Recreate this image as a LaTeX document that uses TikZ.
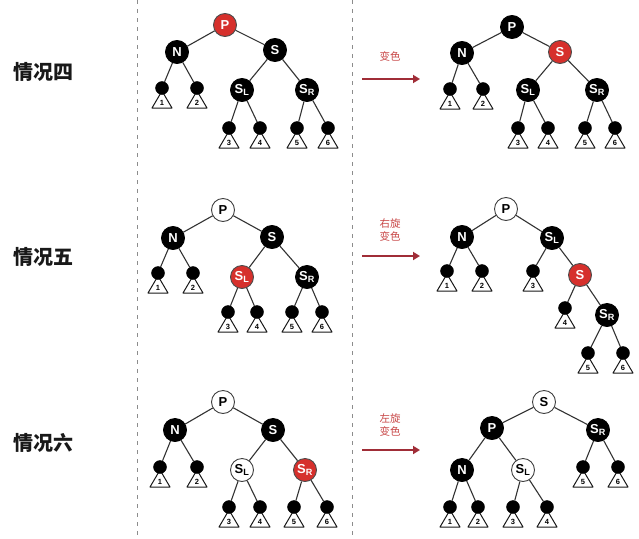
\documentclass[tikz,border=0pt]{standalone}
\usepackage{fontspec}
\setmainfont{Liberation Sans}
\newfontfamily\cjk{Noto Sans CJK SC}
\usetikzlibrary{arrows.meta}
\definecolor{rbnode}{RGB}{214,48,44}
\definecolor{arrowred}{RGB}{160,45,55}
\definecolor{labred}{RGB}{200,70,70}
\tikzset{
  big/.style={circle,minimum size=23pt,inner sep=0pt,line width=0.9pt,font=\bfseries\fontsize{13}{13}\selectfont},
  bn/.style={big,fill=black,draw=black,text=white},
  rn/.style={big,fill=rbnode,draw=black!70,text=white},
  wn/.style={big,fill=white,draw=black!75,text=black},
  leafnode/.style={circle,fill=black,draw=black,minimum size=13pt,inner sep=0pt},
  tristyle/.style={draw=black!90,fill=white,line width=1pt,line join=round},
  numstyle/.style={inner sep=0pt,font=\bfseries\fontsize{7.5}{7.5}\selectfont},
  edge/.style={draw=black!80,line width=1.1pt},
  sep/.style={draw=black!45,line width=0.8pt,dash pattern=on 4pt off 5pt},
  op/.style={-{Triangle[length=7pt,width=8pt]},line width=2.4pt,draw=arrowred},
  oplab/.style={text=labred,font=\cjk\fontsize{10.5}{13}\selectfont,align=center},
  case/.style={font=\cjk\bfseries\fontsize{20}{20}\selectfont,text=black!90},
}
\newcommand\lf[4]{%
  \draw[tristyle] (#2,#3+3) -- (#2+10,#3+20) -- (#2-10,#3+20) -- cycle;
  \node[numstyle] (#1t) at (#2,#3+14.5) {#4};
  \node[leafnode] (#1) at (#2,#3) {};
}
\newcommand\SL{S\textsubscript{L}}
\newcommand\SR{S\textsubscript{R}}
\begin{document}
\begin{tikzpicture}[x=1pt,y=-1pt]
\fill[white] (0,0) rectangle (639,538);
\useasboundingbox (0,0) rectangle (639,538);
% separators
\coordinate (d1t) at (137,0); \coordinate (d1b) at (137,538);
\coordinate (d2t) at (352,0); \coordinate (d2b) at (352,538);
\draw[sep] (d1t) -- (d1b);
\draw[sep] (d2t) -- (d2b);
% case labels
\node[case] (c4) at (43,72) {情况四};
\node[case] (c5) at (43,257) {情况五};
\node[case] (c6) at (43,443) {情况六};
% arrows
\coordinate (a1s) at (362,79); \coordinate (a1e) at (420,79);
\draw[op] (a1s) -- (a1e);
\node[oplab] (l1) at (390,56) {变色};
\coordinate (a2s) at (362,256); \coordinate (a2e) at (420,256);
\draw[op] (a2s) -- (a2e);
\node[oplab] (l2) at (390,230) {右旋\\变色};
\coordinate (a3s) at (362,450); \coordinate (a3e) at (420,450);
\draw[op] (a3s) -- (a3e);
\node[oplab] (l3) at (390,425) {左旋\\变色};

% ===== Case 4 left =====
\node[rn] (aP) at (225,25) {P};
\node[bn] (aN) at (177,52) {N};
\node[bn] (aS) at (275,50) {S};
\node[bn] (aSL) at (242,90) {\SL};
\node[bn] (aSR) at (307,90) {\SR};
\lf{a1}{162}{88}{1}\lf{a2}{197}{88}{2}
\lf{a3}{229}{128}{3}\lf{a4}{260}{128}{4}
\lf{a5}{297}{128}{5}\lf{a6}{328}{128}{6}
\draw[edge] (aP)--(aN) (aP)--(aS) (aS)--(aSL) (aS)--(aSR)
  (aN)--(a1) (aN)--(a2) (aSL)--(a3) (aSL)--(a4) (aSR)--(a5) (aSR)--(a6);

% ===== Case 4 right =====
\node[bn] (bP) at (512,27) {P};
\node[bn] (bN) at (462,53) {N};
\node[rn] (bS) at (560,52) {S};
\node[bn] (bSL) at (528,90) {\SL};
\node[bn] (bSR) at (597,90) {\SR};
\lf{b1}{450}{89}{1}\lf{b2}{483}{89}{2}
\lf{b3}{518}{128}{3}\lf{b4}{548}{128}{4}
\lf{b5}{585}{128}{5}\lf{b6}{615}{128}{6}
\draw[edge] (bP)--(bN) (bP)--(bS) (bS)--(bSL) (bS)--(bSR)
  (bN)--(b1) (bN)--(b2) (bSL)--(b3) (bSL)--(b4) (bSR)--(b5) (bSR)--(b6);

% ===== Case 5 left =====
\node[wn] (cP) at (223,210) {P};
\node[bn] (cN) at (173,238) {N};
\node[bn] (cS) at (272,237) {S};
\node[rn] (cSL) at (242,277) {\SL};
\node[bn] (cSR) at (307,277) {\SR};
\lf{c1}{158}{273}{1}\lf{c2}{193}{273}{2}
\lf{c3}{228}{312}{3}\lf{c4}{257}{312}{4}
\lf{c5}{292}{312}{5}\lf{c6}{322}{312}{6}
\draw[edge] (cP)--(cN) (cP)--(cS) (cS)--(cSL) (cS)--(cSR)
  (cN)--(c1) (cN)--(c2) (cSL)--(c3) (cSL)--(c4) (cSR)--(c5) (cSR)--(c6);

% ===== Case 5 right =====
\node[wn] (dP) at (506,209) {P};
\node[bn] (dN) at (462,237) {N};
\node[bn] (dSL) at (552,238) {\SL};
\node[rn] (dS) at (580,275) {S};
\node[bn] (dSR) at (607,315) {\SR};
\lf{d1}{447}{271}{1}\lf{d2}{482}{271}{2}
\lf{d3}{533}{271}{3}\lf{d4}{565}{308}{4}
\lf{d5}{588}{353}{5}\lf{d6}{623}{353}{6}
\draw[edge] (dP)--(dN) (dP)--(dSL) (dSL)--(d3) (dSL)--(dS) (dS)--(d4) (dS)--(dSR)
  (dN)--(d1) (dN)--(d2) (dSR)--(d5) (dSR)--(d6);

% ===== Case 6 left =====
\node[wn] (eP) at (223,402) {P};
\node[bn] (eN) at (175,430) {N};
\node[bn] (eS) at (273,430) {S};
\node[wn] (eSL) at (242,470) {\SL};
\node[rn] (eSR) at (305,470) {\SR};
\lf{e1}{160}{467}{1}\lf{e2}{197}{467}{2}
\lf{e3}{229}{507}{3}\lf{e4}{260}{507}{4}
\lf{e5}{294}{507}{5}\lf{e6}{327}{507}{6}
\draw[edge] (eP)--(eN) (eP)--(eS) (eS)--(eSL) (eS)--(eSR)
  (eN)--(e1) (eN)--(e2) (eSL)--(e3) (eSL)--(e4) (eSR)--(e5) (eSR)--(e6);

% ===== Case 6 right =====
\node[wn] (fS) at (544,402) {S};
\node[bn] (fP) at (492,428) {P};
\node[bn] (fSR) at (598,430) {\SR};
\node[bn] (fN) at (462,470) {N};
\node[wn] (fSL) at (523,470) {\SL};
\lf{f1}{450}{507}{1}\lf{f2}{478}{507}{2}
\lf{f3}{513}{507}{3}\lf{f4}{547}{507}{4}
\lf{f5}{583}{467}{5}\lf{f6}{618}{467}{6}
\draw[edge] (fS)--(fP) (fS)--(fSR) (fP)--(fN) (fP)--(fSL)
  (fN)--(f1) (fN)--(f2) (fSL)--(f3) (fSL)--(f4) (fSR)--(f5) (fSR)--(f6);
\end{tikzpicture}
\end{document}
